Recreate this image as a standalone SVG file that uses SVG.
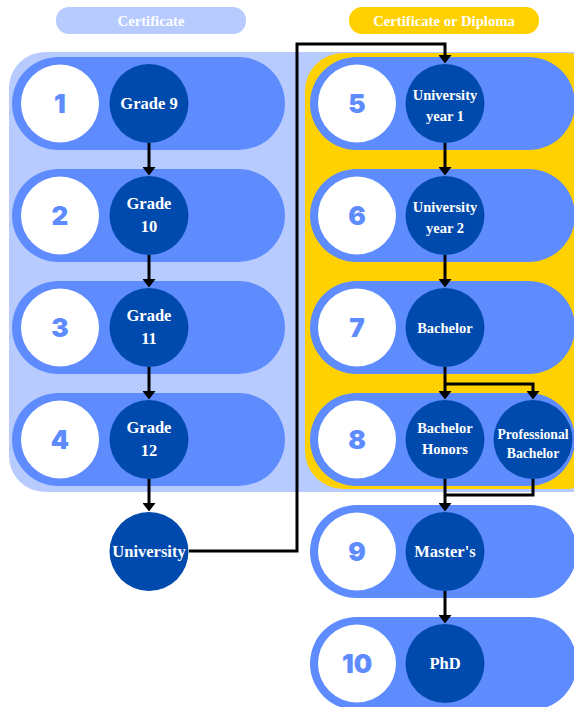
<svg xmlns="http://www.w3.org/2000/svg" width="574" height="707" viewBox="0 0 574 707">
  <defs>
    <style>
      .tag { font-weight: bold; font-size: 14.7px; fill: #ffffff; text-anchor: middle; }
      .pill { fill: #5e8cff; }
      .badge { fill: #ffffff; }
      .num { font-family: Inter, Lato, "DejaVu Sans", sans-serif; font-weight: 900; font-size: 26px; fill: #5e8cff; text-anchor: middle; dominant-baseline: central; }
      .stage { fill: #004aad; }
      .lbl { font-weight: bold; fill: #ffffff; text-anchor: middle; }
      .conn { fill: none; stroke: #000000; stroke-width: 3; }
    </style>
    <marker id="arrow" markerUnits="userSpaceOnUse" markerWidth="9" markerHeight="13" refX="0" refY="6.5" orient="auto">
      <path d="M0,0 L8.5,6.5 L0,13 z" fill="#000000"/>
    </marker>
  </defs>

  <!-- column headers -->
  <g font-family="Liberation Serif, Times New Roman, serif">
    <g id="header-certificate">
      <rect x="56" y="7" width="190" height="27" rx="13" fill="#b7cbff"/>
      <text class="tag" x="151" y="25.5">Certificate</text>
    </g>
    <g id="header-diploma">
      <rect x="349" y="7" width="190" height="27" rx="13" fill="#ffd100"/>
      <text class="tag" x="444" y="25.5">Certificate or Diploma</text>
    </g>
  </g>

  <!-- background panels -->
  <rect id="panel-school" x="9" y="52" width="620" height="440" rx="36" fill="#b7cbff"/>
  <rect id="panel-university" x="305" y="53" width="300" height="436" rx="38" fill="#ffd100"/>

  <!-- numbered rows -->
  <g id="row-1"><rect class="pill" x="12" y="57" width="273" height="93" rx="46.5"/><circle class="badge" cx="60" cy="103.5" r="39"/><text class="num" x="60" y="103.5">1</text></g>
  <g id="row-2"><rect class="pill" x="12" y="169" width="273" height="93" rx="46.5"/><circle class="badge" cx="60" cy="215.5" r="39"/><text class="num" x="60" y="215.5">2</text></g>
  <g id="row-3"><rect class="pill" x="12" y="281" width="273" height="93" rx="46.5"/><circle class="badge" cx="60" cy="327.5" r="39"/><text class="num" x="60" y="327.5">3</text></g>
  <g id="row-4"><rect class="pill" x="12" y="393" width="273" height="93" rx="46.5"/><circle class="badge" cx="60" cy="439.5" r="39"/><text class="num" x="60" y="439.5">4</text></g>
  <g id="row-5"><rect class="pill" x="310" y="57" width="265" height="93" rx="46.5"/><circle class="badge" cx="357" cy="103.5" r="39"/><text class="num" x="357" y="103.5">5</text></g>
  <g id="row-6"><rect class="pill" x="310" y="169" width="265" height="93" rx="46.5"/><circle class="badge" cx="357" cy="215.5" r="39"/><text class="num" x="357" y="215.5">6</text></g>
  <g id="row-7"><rect class="pill" x="310" y="281" width="265" height="93" rx="46.5"/><circle class="badge" cx="357" cy="327.5" r="39"/><text class="num" x="357" y="327.5">7</text></g>
  <g id="row-8"><rect class="pill" x="310" y="393" width="265" height="93" rx="46.5"/><circle class="badge" cx="357" cy="439.5" r="39"/><text class="num" x="357" y="439.5">8</text></g>
  <g id="row-9"><rect class="pill" x="310" y="505" width="267" height="93" rx="46.5"/><circle class="badge" cx="357" cy="551.5" r="39"/><text class="num" x="357" y="551.5">9</text></g>
  <g id="row-10"><rect class="pill" x="310" y="617" width="267" height="93" rx="46.5"/><circle class="badge" cx="357" cy="663.5" r="39"/><text class="num" x="357" y="663.5">10</text></g>

  <!-- stages -->
  <g font-family="Liberation Serif, Times New Roman, serif">
    <g id="node-grade-9"><circle class="stage" cx="149" cy="103.5" r="39.5"/><text class="lbl" x="149" y="109" font-size="16.5">Grade 9</text></g>
    <g id="node-grade-10"><circle class="stage" cx="149" cy="215.5" r="39.5"/><text class="lbl" x="149" y="209" font-size="16.5">Grade</text><text class="lbl" x="149" y="232" font-size="16.5">10</text></g>
    <g id="node-grade-11"><circle class="stage" cx="149" cy="327.5" r="39.5"/><text class="lbl" x="149" y="321" font-size="16.5">Grade</text><text class="lbl" x="149" y="344" font-size="16.5">11</text></g>
    <g id="node-grade-12"><circle class="stage" cx="149" cy="439.5" r="39.5"/><text class="lbl" x="149" y="433" font-size="16.5">Grade</text><text class="lbl" x="149" y="456" font-size="16.5">12</text></g>
    <g id="node-university"><circle class="stage" cx="149" cy="551.5" r="39.5"/><text class="lbl" x="149" y="557" font-size="16.5">University</text></g>
    <g id="node-year-1"><circle class="stage" cx="445" cy="103.5" r="39.5"/><text class="lbl" x="445" y="100" font-size="14.5">University</text><text class="lbl" x="445" y="121" font-size="14.5">year 1</text></g>
    <g id="node-year-2"><circle class="stage" cx="445" cy="215.5" r="39.5"/><text class="lbl" x="445" y="212" font-size="14.5">University</text><text class="lbl" x="445" y="233" font-size="14.5">year 2</text></g>
    <g id="node-bachelor"><circle class="stage" cx="445" cy="327.5" r="39.5"/><text class="lbl" x="445" y="332.5" font-size="14.5">Bachelor</text></g>
    <g id="node-bachelor-honors"><circle class="stage" cx="445" cy="439.5" r="39.5"/><text class="lbl" x="445" y="433" font-size="14.5">Bachelor</text><text class="lbl" x="445" y="454" font-size="14.5">Honors</text></g>
    <g id="node-professional-bachelor"><circle class="stage" cx="533" cy="439.5" r="39.5"/><text class="lbl" x="533" y="439" font-size="13.7">Professional</text><text class="lbl" x="533" y="458" font-size="13.7">Bachelor</text></g>
    <g id="node-masters"><circle class="stage" cx="445" cy="551.5" r="39.5"/><text class="lbl" x="445" y="557" font-size="16.5">Master's</text></g>
    <g id="node-phd"><circle class="stage" cx="445" cy="663.5" r="39.5"/><text class="lbl" x="445" y="669" font-size="16.5">PhD</text></g>
  </g>

  <!-- connectors -->
  <g id="connectors">
    <path class="conn" d="M149 143 V167" marker-end="url(#arrow)"/>
    <path class="conn" d="M149 255 V279" marker-end="url(#arrow)"/>
    <path class="conn" d="M149 367 V391" marker-end="url(#arrow)"/>
    <path class="conn" d="M149 479 V503" marker-end="url(#arrow)"/>
    <path class="conn" d="M189 551 H297 V44 H445 V55" marker-end="url(#arrow)"/>
    <path class="conn" d="M445 143 V167" marker-end="url(#arrow)"/>
    <path class="conn" d="M445 255 V279" marker-end="url(#arrow)"/>
    <path class="conn" d="M445 367 V391" marker-end="url(#arrow)"/>
    <path class="conn" d="M445 384 H533 V391" marker-end="url(#arrow)"/>
    <path class="conn" d="M445 479 V503" marker-end="url(#arrow)"/>
    <path class="conn" d="M533 479 V495 H445"/>
    <path class="conn" d="M445 591 V615" marker-end="url(#arrow)"/>
  </g>
</svg>
